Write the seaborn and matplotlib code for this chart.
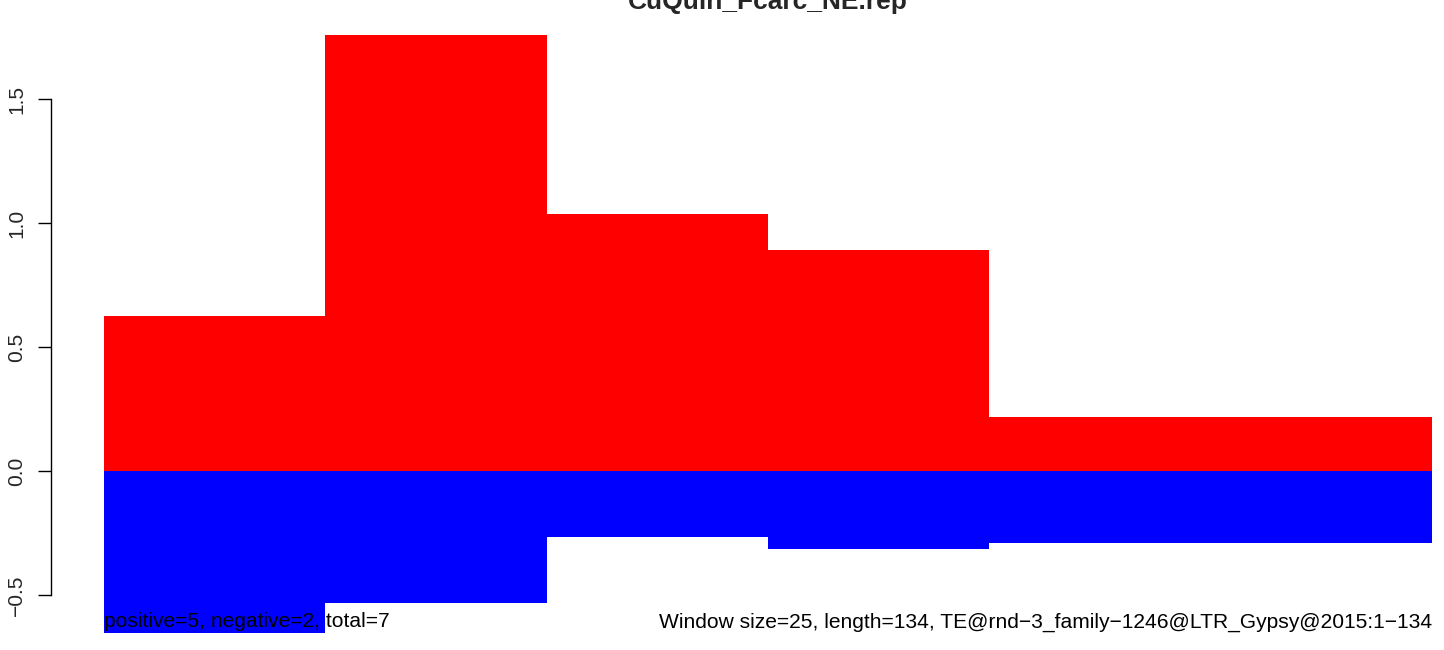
import matplotlib
matplotlib.use("Agg")
import matplotlib.pyplot as plt
import seaborn as sns
import numpy as np

# ---- data ----
window_starts = [0, 25, 50, 75, 100]
window_edges = [0, 25, 50, 75, 100, 150]
positive_vals = [0.625, 1.760, 1.037, 0.892, 0.218]
negative_vals = [-0.654, -0.533, -0.266, -0.315, -0.291]
y_ticks = [-0.5, 0.0, 0.5, 1.0, 1.5]
y_tick_labels = ["\u22120.5", "0.0", "0.5", "1.0", "1.5"]
title = "CuQuin_Fcarc_NE.rep"
left_note = "positive=5, negative=2, total=7"
right_note = "Window size=25, length=134, TE@rnd\u22123_family\u22121246@LTR_Gypsy@2015:1\u2212134"

sns.set_style("white")
plt.rcParams["font.family"] = ["Liberation Sans", "DejaVu Sans"]

W, H = 1444, 650
fig = plt.figure(figsize=(W / 100, H / 100), dpi=100)
# axes region chosen so that the plot area extends past the image, like the reference crop
ax = fig.add_axes([51 / W, 0.0, (W - 51) / W, (H - 11) / H])

sns.histplot(x=window_starts, weights=positive_vals, bins=window_edges,
             color="#ff0000", alpha=1, linewidth=0, edgecolor="none", ax=ax)
sns.histplot(x=window_starts, weights=negative_vals, bins=window_edges,
             color="#0000ff", alpha=1, linewidth=0, edgecolor="none", ax=ax)

ax.set_xlim(-6, 151.35)
ax.set_ylim(-0.7224, 1.856)

for s in ["top", "right", "bottom"]:
    ax.spines[s].set_visible(False)
ax.spines["left"].set_bounds(-0.5, 1.5)
ax.spines["left"].set_color("black")
ax.spines["left"].set_linewidth(1.0)

fs = 15.1
ax.set_yticks(y_ticks)
ax.set_yticklabels(y_tick_labels, rotation=90, va="center", fontsize=fs)
ax.tick_params(axis="y", direction="out", length=9.5, width=1.0, color="black",
               pad=8.5, left=True)
ax.set_xticks([])
ax.set_xlabel("")
ax.set_ylabel("")

ax.text(0, -0.609, left_note, ha="left", va="center", fontsize=fs, color="black")
ax.text(150, -0.609, right_note, ha="right", va="center", fontsize=fs, color="black")

fig.text(768 / W, 1 - 9 / H, title, ha="center", va="baseline",
         fontsize=19, fontweight="bold")

fig.savefig("out.png", dpi=100)
